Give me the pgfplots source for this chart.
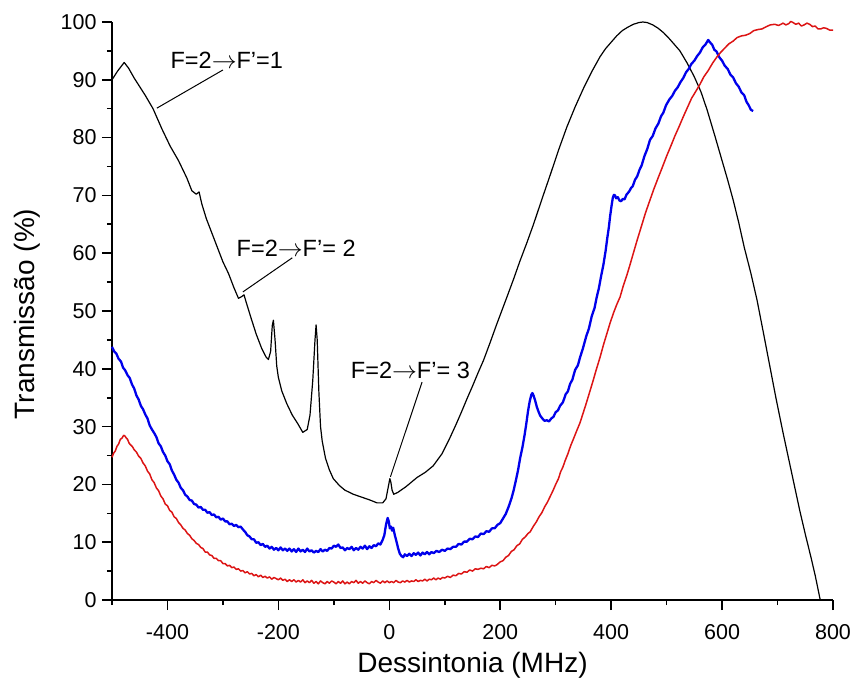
\documentclass[border=0pt]{standalone}
\usepackage{fontspec}
\setmainfont{Liberation Sans}
\usepackage{pgfplots}
\pgfplotsset{compat=1.18}
\definecolor{cblue}{RGB}{0,0,235}
\definecolor{cred}{RGB}{220,20,20}

\pgfplotstableread{
x y
-500 90
-490 91.5
-478 93
-470 92
-460 90.3
-450 88.8
-440 87.3
-426 85
-410 81.5
-395 78.5
-380 76
-365 73
-356 70.8
-348 70.2
-343 70.6
-338 68.5
-330 66
-320 63.5
-310 61
-300 58.5
-290 56.5
-280 54
-272 52.2
-266 52.5
-262 52.8
-258 51.5
-250 49
-240 46
-230 43.5
-222 42
-218 41.6
-214 43
-211 47.5
-209 48.4
-206 45
-203 40.5
-200 38.5
-194 36.2
-185 34
-175 32
-165 30.5
-156 29
-148 29.5
-143 32
-138 38
-134 45
-132 47.6
-130 45
-127 36
-124 30
-121 27.5
-115 24.5
-108 22.5
-101 21
-90 19.8
-80 19
-65 18.3
-50 17.8
-35 17.3
-22 16.8
-12 16.8
-6 17.5
-2 19.5
1 21
3 20.3
5 19
8 18.3
15 18.6
30 19.6
50 21.2
65 22.1
79 23.2
95 25.3
109 28
120 30.3
130 32.5
140 34.8
150 37
160 39.3
170 41.5
182 44.6
194 47.8
212 52.4
224 55.5
235 58.5
248 61.8
260 65
275 69.3
290 73.5
305 77.8
320 81.8
335 85.3
350 88.5
365 91.4
380 94
390 95.4
400 96.5
410 97.6
420 98.5
430 99.1
440 99.6
450 99.9
457 100
465 99.9
475 99.5
485 98.9
495 98.1
505 97.1
515 96.0
524 95
537 92.9
550 90.5
562 87.9
573 84.8
587 80.3
600 76
610 72.7
620 69.2
630 65.3
640 61
652 56.5
663 51.9
675 46
685 41
697 35
710 28.9
725 22.2
740 15.5
750 11.4
760 7.5
768 4.2
777 0
}\black

\pgfplotstableread{
x y
-500 43.8
-496 43.0
-492 42.6
-488 41.7
-484 41.3
-480 40.2
-476 39.7
-472 38.9
-468 38.4
-464 37.3
-460 36.6
-456 35.4
-452 34.7
-448 33.6
-444 33.0
-440 32.1
-436 31.4
-432 30.2
-428 29.5
-424 28.9
-420 28.2
-416 27.1
-412 26.6
-408 25.6
-404 25.0
-400 24.0
-396 23.5
-392 22.4
-388 21.7
-384 20.8
-380 20.3
-376 19.4
-372 19.0
-368 18.2
-364 17.9
-360 17.3
-356 17.2
-352 16.6
-348 16.5
-344 16.0
-340 16.1
-336 15.6
-332 15.6
-328 15.1
-324 15.2
-320 14.7
-316 14.8
-312 14.3
-308 14.4
-304 13.9
-300 14.1
-296 13.6
-292 13.6
-288 13.1
-284 13.2
-280 12.8
-276 13.0
-272 12.6
-268 12.7
-264 12.2
-260 11.8
-256 11.2
-252 11.0
-248 10.5
-244 10.5
-240 9.9
-236 10.0
-232 9.5
-228 9.7
-224 9.2
-220 9.4
-216 8.9
-212 9.2
-208 8.7
-204 9.0
-200 8.6
-196 9.1
-192 8.6
-188 8.9
-184 8.5
-180 8.9
-176 8.4
-172 8.8
-168 8.3
-164 8.9
-160 8.4
-156 8.7
-152 8.3
-148 8.9
-144 8.4
-140 8.6
-136 8.2
-132 8.5
-128 8.3
-124 8.8
-120 8.4
-116 8.7
-112 8.5
-108 9.0
-104 8.9
-100 9.4
-96 9.2
-92 9.6
-88 9.0
-84 9.1
-80 8.6
-76 9.0
-72 8.8
-68 9.2
-64 8.6
-60 9.0
-56 8.7
-52 9.2
-48 8.9
-44 9.4
-40 8.8
-36 9.3
-32 9.0
-28 9.5
-24 9.3
-20 9.8
-16 9.6
-12 10.4
-9 11.2
-6 13.0
-3 14.2
-1 13.6
1 12.4
3 12.7
5 12.0
7 12.5
10 11.2
13 10.1
16 8.9
19 8.0
22 7.6
25 7.4
28 7.9
32 7.6
36 8.0
40 7.6
44 8.1
48 7.8
52 8.2
56 7.7
60 8.2
64 7.9
68 8.3
72 7.9
76 8.3
80 8.1
85 8.5
90 8.3
95 8.7
100 8.5
105 8.9
110 8.8
115 9.2
120 9.2
125 9.7
130 9.6
135 10.1
140 10.1
145 10.6
150 10.5
155 11.0
160 10.9
165 11.5
170 11.4
175 11.9
180 11.8
185 12.4
190 12.4
195 13.0
200 13.3
205 14.1
210 14.9
215 16.1
220 17.5
224 18.9
228 20.6
232 22.4
236 24.6
240 26.4
244 28.6
247 30.5
250 32.6
253 34.3
256 35.5
258 35.8
260 35.4
263 34.5
266 33.4
269 32.6
272 31.9
276 31.4
280 31.0
284 31.1
288 30.9
292 31.4
296 31.7
300 32.5
304 32.8
308 33.6
313 34.2
318 35.6
322 36.1
326 37.4
330 38.1
335 39.8
340 40.6
344 42.0
349 43.5
355 45.6
360 47.0
365 49.1
370 50.5
374 52.4
378 54.0
382 56.1
386 58.0
390 60.4
393 62.6
396 64.6
398 66.3
401 68.4
403 69.6
405 70.1
407 70.0
409 69.5
412 69.7
415 69.1
418 69.0
421 69.4
424 69.3
428 70.2
432 70.6
436 71.3
439 71.6
443 72.7
447 73.3
451 74.4
455 75.2
460 76.8
465 78.0
470 79.6
475 80.3
480 81.6
485 82.4
490 83.7
494 84.3
499 85.6
505 86.6
510 87.2
515 88.1
520 88.7
525 89.6
530 90.3
535 91.3
540 91.9
545 92.8
550 93.3
555 94.1
560 94.7
565 95.6
570 96.1
575 96.9
578 96.5
582 96.1
586 95.2
590 94.9
595 93.9
600 93.3
605 92.4
610 91.9
615 90.9
620 90.4
625 89.4
630 88.8
635 87.8
640 87.3
644 86.2
648 85.6
652 84.8
656 84.6
}\blue

\pgfplotstableread{
x y
-500 24.7
-497 25.4
-494 25.8
-491 26.6
-488 27.0
-485 27.8
-482 28.0
-479 28.5
-477 28.4
-474 28.0
-472 27.8
-469 27.1
-466 26.8
-463 26.5
-460 26.0
-456 25.6
-452 24.9
-448 24.5
-444 23.7
-440 23.2
-436 22.3
-432 21.8
-428 20.8
-424 20.3
-420 19.4
-416 18.9
-412 18.0
-408 17.5
-404 16.6
-400 16.3
-396 15.5
-392 15.2
-388 14.4
-384 14.1
-380 13.4
-376 13.0
-372 12.4
-368 12.1
-364 11.5
-360 11.2
-356 10.6
-352 10.3
-348 9.8
-344 9.6
-340 9.1
-336 8.9
-332 8.3
-328 8.3
-324 7.8
-320 7.7
-316 7.2
-312 7.2
-308 6.8
-304 6.8
-300 6.3
-296 6.3
-292 5.9
-288 6.0
-284 5.6
-280 5.7
-276 5.3
-272 5.4
-268 5.0
-264 5.1
-260 4.7
-256 4.9
-252 4.5
-248 4.6
-244 4.2
-240 4.4
-236 4.0
-232 4.3
-228 3.9
-224 4.1
-220 3.8
-216 4.0
-212 3.6
-208 3.9
-204 3.7
-200 3.5
-196 3.8
-192 3.4
-188 3.6
-184 3.2
-180 3.5
-176 3.2
-172 3.5
-168 3.1
-164 3.4
-160 3.1
-156 3.5
-152 3.0
-148 3.3
-144 3.0
-140 3.4
-136 2.9
-132 3.2
-128 2.8
-124 3.3
-120 3.0
-116 2.8
-112 3.2
-108 2.9
-104 3.3
-100 3.1
-96 2.8
-92 3.2
-88 2.9
-84 3.3
-80 2.8
-76 3.1
-72 2.8
-68 3.2
-64 3.0
-60 3.4
-56 2.9
-52 3.2
-48 2.9
-44 3.3
-40 3.0
-36 2.8
-32 3.2
-28 3.0
-24 3.4
-20 3.1
-16 2.9
-12 3.3
-8 3.0
-4 3.3
0 3.0
4 3.2
8 3.0
12 3.4
16 3.1
20 3.0
24 3.3
28 3.1
32 3.4
36 3.1
40 3.3
44 3.2
48 3.5
52 3.2
56 3.4
60 3.3
64 3.6
68 3.3
72 3.6
76 3.5
80 3.8
84 3.5
88 3.8
92 3.6
96 3.9
100 3.8
105 4.1
110 3.9
115 4.3
120 4.2
125 4.6
130 4.5
135 4.9
140 4.8
145 5.2
150 5.0
155 5.4
160 5.3
165 5.5
170 5.4
175 5.8
180 5.6
185 6.0
190 5.9
194 6.1
200 6.6
205 6.8
210 7.4
215 7.7
220 8.4
225 8.7
230 9.4
235 9.7
240 10.5
245 10.9
250 11.5
254 11.8
260 12.8
265 13.5
270 14.4
275 15.1
280 16.1
285 16.9
290 17.9
295 18.9
300 20.0
305 21.0
309 22.2
313 23.0
317 24.1
322 25.3
327 26.7
333 28.1
338 29.3
344 30.7
350 32.5
355 34.0
361 35.9
367 37.8
373 39.8
380 42.0
386 44.1
392 46.0
398 47.9
404 49.6
410 51.1
416 52.4
422 54.4
428 56.1
434 58.0
440 60.0
447 62.3
455 64.8
462 67.0
470 69.2
477 71.1
485 73.1
492 74.8
500 76.8
507 78.4
515 80.3
522 81.8
530 83.6
537 85.1
545 86.8
552 87.9
560 89.2
567 90.5
575 91.6
583 92.9
591 94.0
598 94.8
605 95.5
612 96.2
620 96.7
627 97.3
635 97.6
642 97.7
650 98.0
657 98.5
665 98.7
672 98.8
680 99.2
687 99.5
695 99.6
702 99.4
710 99.8
715 99.5
720 99.7
724 100.1
728 99.9
733 99.6
738 99.8
743 99.3
748 99.5
753 99.8
758 99.6
763 99.2
768 99.3
773 98.8
778 98.8
783 99.0
788 98.9
794 98.6
800 98.6
}\red

\begin{document}
\begin{tikzpicture}
\begin{axis}[
  scale only axis,
  width=721pt, height=578pt,
  xmin=-500, xmax=800, ymin=0, ymax=100,
  axis lines=left,
  axis line style={-, line width=1.6pt},
  xtick={-400,-200,0,200,400,600,800},
  minor xtick={-500,-300,-100,100,300,500,700},
  ytick={0,10,...,100},
  minor ytick={5,15,...,95},
  tick align=outside,
  major tick length=10pt,
  minor tick length=5pt,
  every tick/.style={black, line width=1.6pt},
  /pgf/number format/assume math mode=true,
  ticklabel style={font=\fontsize{21.5}{25}\selectfont},
  yticklabel style={xshift=-2pt},
  xticklabel style={yshift=-11pt},
  xlabel={Dessintonia (MHz)},
  ylabel={Transmissão (\%)},
  label style={font=\fontsize{28}{32}\selectfont},
  xlabel style={at={([yshift=-65pt]axis description cs:0.5,0)}, anchor=center},
  ylabel style={at={([xshift=-85pt,yshift=-3pt]axis description cs:0,0.5)}, anchor=center, rotate=0},
  clip=false,
]
\coordinate (bl) at (rel axis cs:0,0);
\coordinate (tr) at (rel axis cs:1,1);
\addplot[black, line width=1.2pt, line join=round] table[x=x,y=y] {\black};
\addplot[cblue, line width=2.3pt, line join=round] table[x=x,y=y] {\blue};
\addplot[cred, line width=1.5pt, line join=round] table[x=x,y=y] {\red};
\draw[black, line width=1pt] (axis cs:-300,91.7) -- (axis cs:-419,85.1);
\draw[black, line width=1pt] (axis cs:-175,59.2) -- (axis cs:-264,53.3);
\draw[black, line width=1pt] (axis cs:59,37.7) -- (axis cs:2,21.3);
\node[font=\fontsize{23.5}{27}\selectfont, inner sep=1pt] at (axis cs:-293,93.4) {F=2$\mathord{\rightarrow}$F’=1};
\node[font=\fontsize{23.5}{27}\selectfont, inner sep=1pt] at (axis cs:-168,60.9) {F=2$\mathord{\rightarrow}$F’= 2};
\node[font=\fontsize{23.5}{27}\selectfont, inner sep=1pt] at (axis cs:38,39.8) {F=2$\mathord{\rightarrow}$F’= 3};
\end{axis}
\pgfresetboundingbox
\path ([shift={(-112pt,-91pt)}]bl) rectangle ([shift={(20pt,22pt)}]tr);
\end{tikzpicture}
\end{document}
